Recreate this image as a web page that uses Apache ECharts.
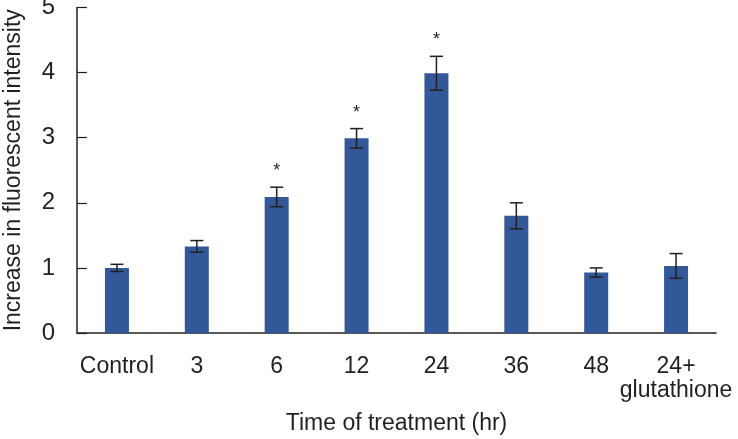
<!DOCTYPE html>
<html>
<head>
<meta charset="utf-8">
<script src="https://cdn.jsdelivr.net/npm/echarts@6/dist/echarts.min.js"></script>
<style>
html,body{margin:0;padding:0;background:#fff;}
#chart{width:738px;height:439px;}
</style>
</head>
<body>
<div id="chart"></div>
<script>
const categories = ['Control', '3', '6', '12', '24', '36', '48', '24+\nglutathione'];
const means = [1.0, 1.33, 2.09, 2.99, 3.99, 1.80, 0.93, 1.03];
const errors = [0.055, 0.09, 0.15, 0.15, 0.26, 0.20, 0.07, 0.19];
const significant = [false, false, true, true, true, false, false, false];
const yTicks = [0, 1, 2, 3, 4, 5];

const FONT = "'Liberation Sans', Arial, sans-serif";
const chart = echarts.init(document.getElementById('chart'));

const errData = categories.map((c, i) => [i, means[i] - errors[i], means[i] + errors[i], significant[i] ? 1 : 0]);

chart.setOption({
  animation: false,
  grid: { left: 77, right: 22, top: 7.5, bottom: 106, outerBoundsMode: 'none', containLabel: false },
  xAxis: {
    type: 'category',
    data: categories,
    name: 'Time of treatment (hr)',
    nameLocation: 'middle',
    nameGap: 79,
    nameTextStyle: { fontFamily: FONT, fontSize: 23, color: '#231f20' },
    axisLine: { lineStyle: { color: '#231f20', width: 1.5 } },
    axisTick: { show: false },
    axisLabel: { fontFamily: FONT, fontSize: 23, color: '#231f20', margin: 22, lineHeight: 24, interval: 0 }
  },
  yAxis: {
    type: 'value',
    min: yTicks[0],
    max: yTicks[yTicks.length - 1],
    interval: 1,
    name: 'Increase in fluorescent intensity',
    nameLocation: 'middle',
    nameGap: 52,
    nameTextStyle: { fontFamily: FONT, fontSize: 23, color: '#231f20' },
    axisLine: { show: true, lineStyle: { color: '#231f20', width: 1.5 } },
    axisTick: { show: true, inside: true, length: 10, lineStyle: { color: '#231f20', width: 1.2 } },
    splitLine: { show: false },
    axisLabel: { fontFamily: FONT, fontSize: 24, color: '#231f20', margin: 22 }
  },
  series: [
    {
      type: 'bar',
      data: means,
      barWidth: 24,
      itemStyle: { color: '#33589a' }
    },
    {
      type: 'custom',
      data: errData,
      z: 10,
      renderItem: function (params, api) {
        const x = api.value(0);
        const lo = api.coord([x, api.value(1)]);
        const hi = api.coord([x, api.value(2)]);
        const hw = 6.5;
        const style = { stroke: '#231f20', lineWidth: 1.5 };
        const children = [
          { type: 'line', shape: { x1: hi[0], y1: hi[1], x2: lo[0], y2: lo[1] }, style: style },
          { type: 'line', shape: { x1: hi[0] - hw, y1: hi[1], x2: hi[0] + hw, y2: hi[1] }, style: style },
          { type: 'line', shape: { x1: lo[0] - hw, y1: lo[1], x2: lo[0] + hw, y2: lo[1] }, style: style }
        ];
        if (api.value(3) === 1) {
          children.push({
            type: 'text',
            style: {
              text: '*', x: hi[0], y: hi[1] - 16,
              fontSize: 18, fontFamily: FONT,
              fill: '#231f20', align: 'center', verticalAlign: 'middle'
            }
          });
        }
        return { type: 'group', children: children };
      }
    }
  ]
});
</script>
</body>
</html>
